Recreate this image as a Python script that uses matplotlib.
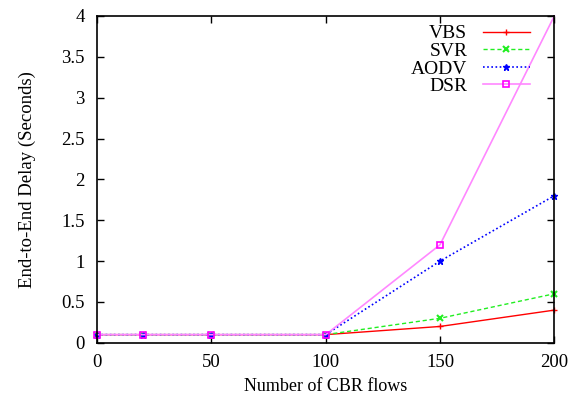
import matplotlib
matplotlib.use("Agg")
import matplotlib.pyplot as plt

plt.rcParams['font.family'] = ['Liberation Serif', 'DejaVu Serif']

# data
flows = [0, 20, 50, 100, 150, 200]
vbs = [0.1, 0.1, 0.1, 0.1, 0.2, 0.4]
svr = [0.1, 0.1, 0.1, 0.1, 0.3, 0.6]
aodv = [0.1, 0.1, 0.1, 0.1, 1.0, 1.8]
dsr = [0.1, 0.1, 0.1, 0.1, 1.2, 4.0]

fig = plt.figure(figsize=(5.72, 4.0), dpi=100)
ax = fig.add_axes([0.17, 0.143, 0.799, 0.817])

ax.plot(flows, vbs, color='red', ls='-', lw=1, marker='+', ms=5, label='VBS', clip_on=False)
ax.plot(flows, svr, color='#22ee22', ls=(0, (3, 2)), lw=1, marker='x', ms=4, mew=1.5,
        label='SVR', clip_on=False)
ax.plot(flows, aodv, color='blue', ls=(0, (1, 1.5)), lw=1.2, marker='*', ms=5, label='AODV',
        clip_on=False)
# last DSR point sits at the top edge, gnuplot drops its marker
ax.plot(flows, dsr, color='#ff88ff', ls='-', lw=1.2, marker='s', ms=5, mfc='none', mec='magenta',
        mew=1.2, label='DSR', clip_on=False, markevery=[0, 1, 2, 3, 4])

ax.set_xlim(0, 200)
ax.set_ylim(0, 4)
ax.set_xticks([0, 50, 100, 150, 200])
ax.set_yticks([0, 0.5, 1, 1.5, 2, 2.5, 3, 3.5, 4])
ax.set_yticklabels(['0', '0.5', '1', '1.5', '2', '2.5', '3', '3.5', '4'])
ax.tick_params(direction='in', top=True, right=True, length=5, width=1, labelsize=13.5)
ax.tick_params(axis='x', pad=8)
ax.tick_params(axis='y', pad=9)
for s in ax.spines.values():
    s.set_linewidth(1.2)

ax.set_xlabel('Number of CBR flows', fontsize=13, labelpad=5)
ax.set_ylabel('End-to-End Delay (Seconds)', fontsize=13.5, labelpad=18)

ax.legend(loc='upper right', bbox_to_anchor=(0.965, 1.0), markerfirst=False, frameon=False,
          fontsize=14, handlelength=2.4, labelspacing=0.0, borderaxespad=0.15,
          handletextpad=0.8, borderpad=0.3)

fig.savefig('out.png', dpi=100)
